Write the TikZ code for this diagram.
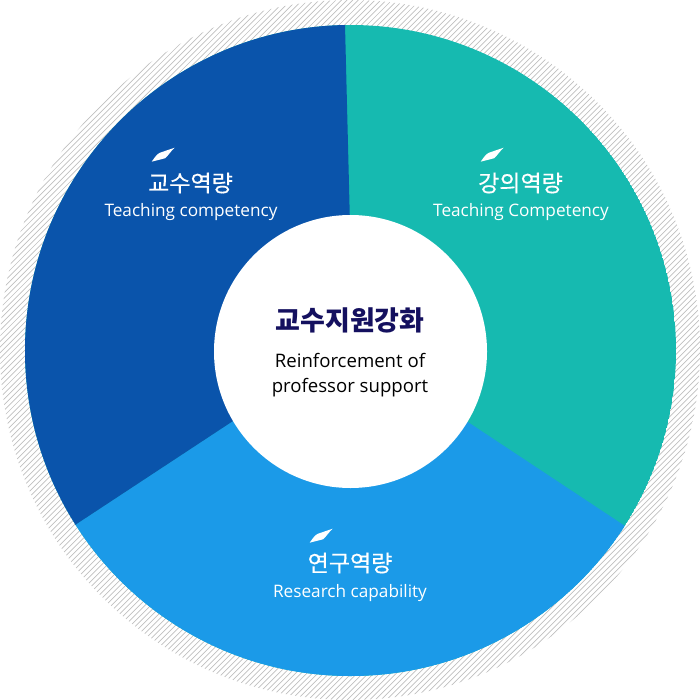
\documentclass[tikz,border=0pt]{standalone}
\usepackage{fontspec}
\setmainfont{Open Sans}
\newfontfamily\krfont{Noto Sans CJK KR}
\newfontfamily\krmedium[RawFeature={embolden=0.4}]{Noto Sans CJK KR}
\usetikzlibrary{positioning}
\definecolor{darkblue}{HTML}{0A54AB}
\definecolor{tealgreen}{HTML}{16BAB0}
\definecolor{lightblue}{HTML}{1B9AE8}
\definecolor{navytext}{HTML}{14105F}
\tikzset{
  krlabel/.style={text=white,font=\krmedium\fontsize{23}{26}\selectfont,inner sep=0pt},
  enlabel/.style={text=white,font=\fontsize{17.2}{20}\selectfont,inner sep=0pt},
  feather/.style={fill=white,draw=none}
}
\newcommand{\feathermark}[1]{
  \fill[feather,shift={#1}] (-12.3,6.7) .. controls (-9,2) and (-7,-1) .. (-4,-2.3) -- (10.7,-7.3) .. controls (6,-3) and (4,1) .. (1,3.3) -- cycle;
}
\begin{document}
\begin{tikzpicture}[x=1pt,y=-1pt]
    \useasboundingbox (0,0) rectangle (700,700);
    \coordinate (C) at (350.5,350.5);
    \coordinate (M) at (350.5,351.5);
    \coordinate (J) at (353,345);
    \coordinate (K) at (350,344);
    \coordinate (A) at (345,25);
    \coordinate (B) at (623.5,525);
    \coordinate (D) at (76.5,524);

    % hatched ring
    \begin{scope}
      \clip (350,350) circle (350);
      \foreach \i in {-700,-694.4,...,1400}
        \draw[gray!50,line width=0.7pt] (\i,0)--(\i-700,700);
    \end{scope}

    % sectors
    \begin{scope}
      \clip (C) circle (325.5);
      \fill[tealgreen] (C) circle (325.5);
      \fill[lightblue] (K)--(D)--(-100,700)--(-100,800)--(800,800)--(800,700)--(B)--cycle;
      \fill[darkblue] (J)--(K)--(D)--(-100,700)--(-100,-50)--(344,-50)--(A)--cycle;
    \end{scope}
    \fill[white] (M) circle (136.5);

    % center
    \node[text=navytext,font=\krfont\bfseries\fontsize{27}{30}\selectfont,inner sep=0pt] (title) at (350,320) {교수지원강화};
    \node[text=black,font=\fontsize{18.6}{25}\selectfont,align=center,inner sep=0pt] (sub) at (350,375) {Reinforcement of\\professor support};

    % labels
    \feathermark{(164,155)}
    \node[krlabel] (kyosu) at (190.5,183) {교수역량};
    \node[enlabel] (kyosuen) at (191,212) {Teaching competency};

    \feathermark{(493,155)}
    \node[krlabel] (gangui) at (520.5,183) {강의역량};
    \node[enlabel] (ganguien) at (521,212) {Teaching Competency};

    \feathermark{(322,536)}
    \node[krlabel] (yeongu) at (350,563) {연구역량};
    \node[enlabel] (yeonguen) at (350,593) {Research capability};
\end{tikzpicture}
\end{document}
